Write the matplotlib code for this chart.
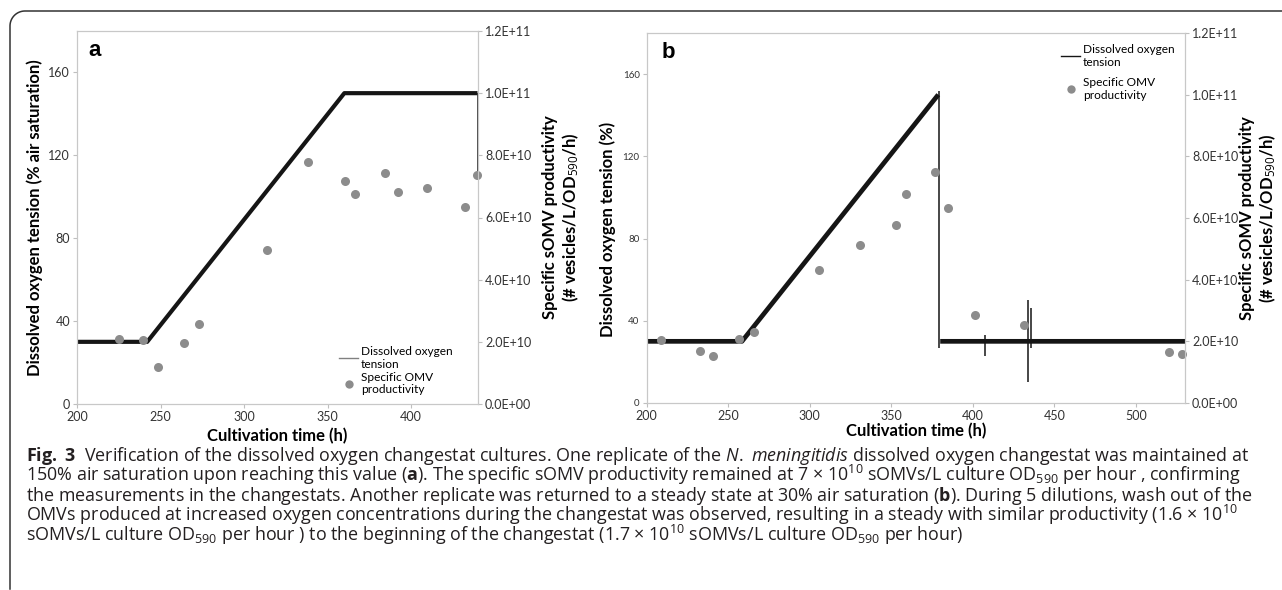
import matplotlib
matplotlib.use('Agg')
import matplotlib.pyplot as plt
import numpy as np
from matplotlib.lines import Line2D

plt.rcParams['font.family'] = ['Lato', 'DejaVu Sans']
plt.rcParams['mathtext.fontset'] = 'custom'
plt.rcParams['mathtext.rm'] = 'Open Sans'
plt.rcParams['mathtext.it'] = 'Open Sans:italic'
plt.rcParams['mathtext.bf'] = 'Open Sans:bold'

# panel a: dissolved oxygen trace (breakpoints) and thin steps (time, low, high)
do_time_a = [200, 242, 360, 439.7]
do_value_a = [30, 30, 150, 150]
do_steps_a = [(439.8, 110, 150)]

omv_time_a = [225.4, 239.6, 248.3, 263.9, 273.0, 313.6, 338.0, 360.6, 366.3,
              384.3, 392.4, 409.4, 432.0, 439.6]
omv_a = [2.10e10, 2.05e10, 1.20e10, 1.97e10, 2.57e10, 4.97e10, 7.78e10, 7.16e10,
         6.74e10, 7.43e10, 6.83e10, 6.94e10, 6.35e10, 7.37e10]

# panel b
do_time_b = [200, 258.5, 378.8, np.nan, 380, 530]
do_value_b = [30, 30, 150, np.nan, 30, 30]
do_steps_b = [(379.3, 27, 152), (407.6, 23, 33), (434.0, 10, 50), (435.9, 27, 46)]

omv_time_b = [208.6, 232.6, 241.0, 256.5, 265.8, 305.9, 330.6, 352.9, 359.2,
              376.5, 384.5, 401.3, 431.2, 520.0, 528.3]
omv_b = [2.04e10, 1.70e10, 1.52e10, 2.06e10, 2.29e10, 4.31e10, 5.14e10, 5.77e10,
         6.77e10, 7.49e10, 6.31e10, 2.86e10, 2.53e10, 1.64e10, 1.59e10]

left_ticks = [0, 40, 80, 120, 160]
right_ticks = [0, 2e10, 4e10, 6e10, 8e10, 1e11, 1.2e11]

W, H = 1282, 590
fig = plt.figure(figsize=(W / 100, H / 100), dpi=100)

spine_col = '#c8c8c8'
dot_col = '#8c8c8c'
right_label = 'Specific sOMV productivity\n(# vesicles/L/OD$_{590}$/h)'


def style(ax, size):
    for s in ax.spines.values():
        s.set_color(spine_col)
    ax.tick_params(length=3, color='#bfbfbf', labelsize=size, labelcolor='#333333', pad=2)


def panel(rect, t, v, steps, ot, ov, xmax, xticks, ylab, left_size, letter, legpos, legcol, lw, legsp):
    ax = fig.add_axes(rect)
    ax.plot(t, v, color='#151515', lw=lw, solid_capstyle='butt')
    for st in steps:
        ax.vlines(st[0], st[1], st[2], color='#151515', lw=1.1)
    ax.set_xlim(200, xmax)
    ax.set_ylim(0, 180)
    ax.set_xticks(xticks)
    ax.set_yticks(left_ticks)
    style(ax, left_size)
    ax.tick_params(axis='x', labelsize=9)
    ax.set_xlabel('Cultivation time (h)', fontsize=12, fontweight='bold')
    ax.set_ylabel(ylab, fontsize=12, fontweight='bold')

    ax2 = ax.twinx()
    ax2.plot(ot, ov, 'o', color=dot_col, ms=6.5, mec='none', clip_on=False)
    ax2.set_ylim(0, 1.2e11)
    ax2.set_yticks(right_ticks)
    ax2.set_yticklabels(['{:.1E}'.format(r) for r in right_ticks])
    style(ax2, 9)
    ax2.set_ylabel(right_label, fontsize=12, fontweight='bold', linespacing=1.15)

    ax.text(0.028, 0.975, letter, transform=ax.transAxes, fontsize=16, fontweight='bold',
            family='Liberation Sans', va='top', ha='left')

    handles = [Line2D([], [], color=legcol, lw=1),
               Line2D([], [], ls='none', marker='o', color=dot_col, mec='none', ms=6)]
    ax2.legend(handles, ['Dissolved oxygen\ntension', 'Specific OMV\nproductivity'],
               loc='upper left', bbox_to_anchor=(legpos[0] / W, 1 - legpos[1] / H),
               bbox_transform=fig.transFigure, frameon=False, fontsize=8.6,
               borderpad=0, handlelength=1.6, handletextpad=0.25, labelspacing=legsp,
               borderaxespad=0)
    return ax, ax2


axa, axa2 = panel([77 / W, 1 - 404 / H, 401 / W, 373 / H], do_time_a, do_value_a, do_steps_a,
                  omv_time_a, omv_a, 440, [200, 250, 300, 350, 400],
                  'Dissolved oxygen tension (% air saturation)', 9, 'a', (339, 346), '#808080', 3.0, 0.15)
axb, axb2 = panel([646.5 / W, 1 - 403 / H, 538.5 / W, 370 / H], do_time_b, do_value_b, do_steps_b,
                  omv_time_b, omv_b, 530, [200, 250, 300, 350, 400, 450, 500],
                  'Dissolved oxygen tension (%)', 7, 'b', (1061, 44), '#151515', 3.4, 0.75)

# label anchors: left labels by their right edge, right labels by their left edge
axa.yaxis.set_label_coords(-0.085, 0.5)
axa2.yaxis.set_label_coords(1.160, 0.5)
axb.yaxis.set_label_coords(-0.057, 0.47)
axb2.yaxis.set_label_coords(1.100, 0.5)
axa.xaxis.set_label_coords(0.5, -0.063)
axb.xaxis.set_label_coords(0.5, -0.054)

# rounded frame round the figure (top-left corner)
r = 15
ang = np.linspace(np.pi, np.pi / 2, 20)
px = np.concatenate([[10], 10 + r + r * np.cos(ang), [W + 5]])
py = np.concatenate([[589], 11 + r - r * np.sin(ang), [11]])
fig.add_artist(Line2D(px / W, 1 - py / H, color='#333333', lw=1.1, transform=fig.transFigure))

# caption
cap_lines = [
    r'$\mathbf{Fig.\ 3}$  Verification of the dissolved oxygen changestat cultures. One replicate of the $\mathit{N.\ meningitidis}$ dissolved oxygen changestat was maintained at',
    r'150% air saturation upon reaching this value ($\mathbf{a}$). The specific sOMV productivity remained at 7 × 10$^{10}$ sOMVs/L culture OD$_{590}$ per hour , confirming',
    r'the measurements in the changestats. Another replicate was returned to a steady state at 30% air saturation ($\mathbf{b}$). During 5 dilutions, wash out of the',
    r'OMVs produced at increased oxygen concentrations during the changestat was observed, resulting in a steady with similar productivity (1.6 × 10$^{10}$',
    r'sOMVs/L culture OD$_{590}$ per hour ) to the beginning of the changestat (1.7 × 10$^{10}$ sOMVs/L culture OD$_{590}$ per hour)',
]
for i, line in enumerate(cap_lines):
    fig.text(26 / W, 1 - (461 + 19.9 * i) / H, line, fontsize=12.9, family='Open Sans',
             color='#231f20', va='baseline', ha='left')

fig.savefig('out.png', dpi=100)
